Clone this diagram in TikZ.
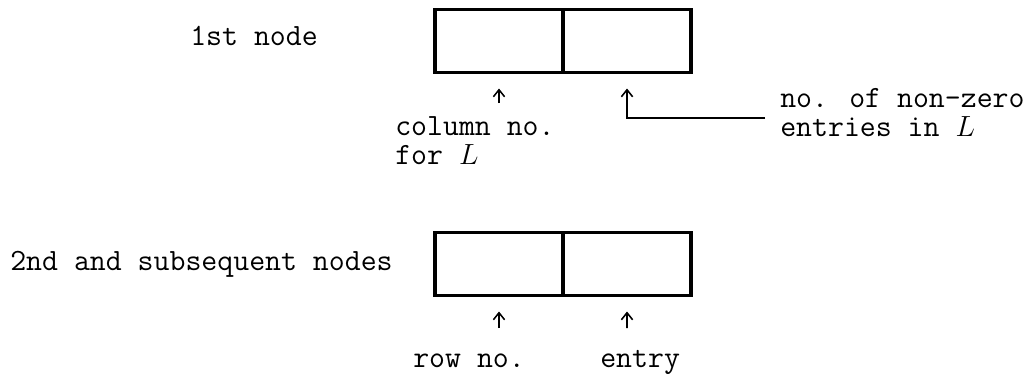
\documentclass[tikz,border=0pt]{standalone}
\usetikzlibrary{positioning,arrows.meta}
\begin{document}
\begin{tikzpicture}[x=0.025cm,y=-0.025cm,
    cell/.style={draw,line width=2.6pt,minimum width=3.2cm,minimum height=1.575cm,
      inner sep=0pt,outer sep=0pt},
    lbl/.style={anchor=base west,inner sep=0pt,align=left,
      font=\fontsize{22pt}{20pt}\selectfont\ttfamily},
    ptr/.style={line width=1.1pt,-{Straight Barb[length=5pt,width=8pt]}}]
  \useasboundingbox (0,0) rectangle (1028,375);
  % first node: column no. and count
  \node[cell] (col) at (499,41) {};
  \node[cell,right=0pt of col] (cnt) {};
  \node[lbl] (first) at (190,45) {1st node};
  \node[lbl] (collbl) at (395,164) {column no.\\for $L$};
  \node[lbl] (cntlbl) at (780,136) {no. of non-zero\\entries in $L$};
  \coordinate (colp) at (499,103);
  \coordinate (cntp) at (765,118);
  \draw[ptr,shorten >=0.4cm] (colp) -- (col.south);
  \draw[ptr,shorten >=0.4cm] (cntp) -| (cnt.south);
  % second and later nodes: row no. and entry
  \node[cell] (row) at (499,264) {};
  \node[cell,right=0pt of row] (ent) {};
  \node[lbl] (rest) at (10,270) {2nd and subsequent nodes};
  \node[lbl] (rowlbl) at (413,367) {row no.};
  \node[lbl] (entlbl) at (600,367) {entry};
  \coordinate (rowp) at (499,328);
  \coordinate (entp) at (627,328);
  \draw[ptr,shorten >=0.4cm] (rowp) -- (row.south);
  \draw[ptr,shorten >=0.4cm] (entp) -- (ent.south);
\end{tikzpicture}
\end{document}
